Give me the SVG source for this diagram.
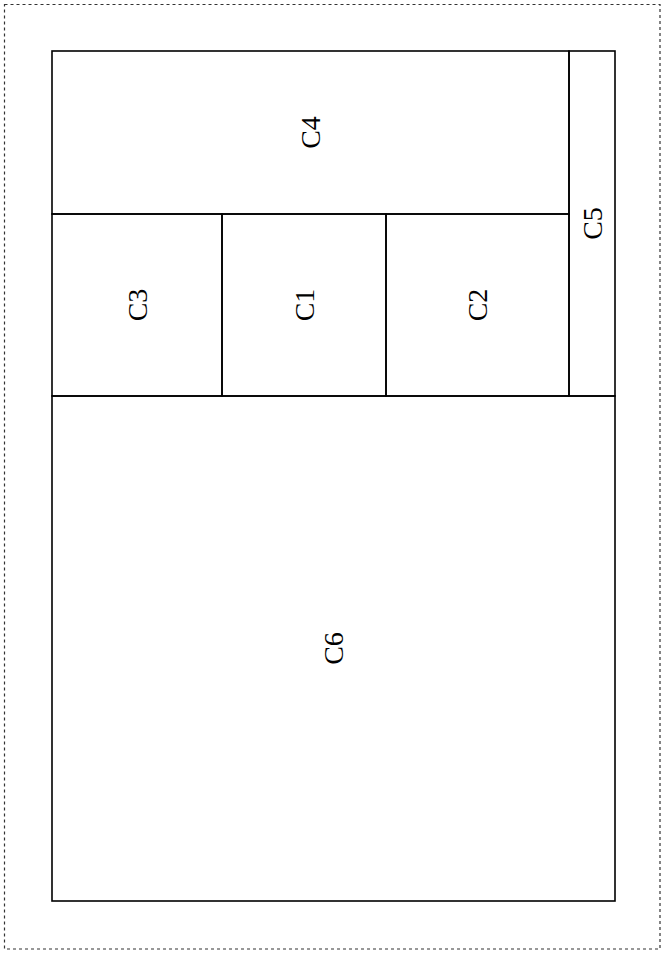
<svg xmlns="http://www.w3.org/2000/svg" width="662" height="954" viewBox="0 0 662 954">
<style>
.cell{fill:none;stroke:#000;stroke-width:1.6}
.lbl{font-family:"Liberation Serif","DejaVu Serif",serif;font-size:28px;fill:#000;text-anchor:middle;dominant-baseline:central}
</style>
<rect x="0" y="0" width="662" height="954" fill="#fff"/>
<rect x="4.5" y="4.5" width="655.5" height="944.5" fill="none" stroke="#333" stroke-width="1.2" stroke-dasharray="3,3"/>
<g id="C4"><rect class="cell" x="52" y="51" width="517" height="163"/><text class="lbl" transform="translate(310.5,132.5) rotate(-90)">C4</text></g>
<g id="C5"><rect class="cell" x="569" y="51" width="46" height="345"/><text class="lbl" transform="translate(592,223.5) rotate(-90)">C5</text></g>
<g id="C3"><rect class="cell" x="52" y="214" width="170" height="182"/><text class="lbl" transform="translate(137,305) rotate(-90)">C3</text></g>
<g id="C1"><rect class="cell" x="222" y="214" width="164" height="182"/><text class="lbl" transform="translate(304,305) rotate(-90)">C1</text></g>
<g id="C2"><rect class="cell" x="386" y="214" width="183" height="182"/><text class="lbl" transform="translate(477.5,305) rotate(-90)">C2</text></g>
<g id="C6"><rect class="cell" x="52" y="396" width="563" height="505"/><text class="lbl" transform="translate(333.5,648.5) rotate(-90)">C6</text></g>
<g id="connectors"></g>
</svg>
